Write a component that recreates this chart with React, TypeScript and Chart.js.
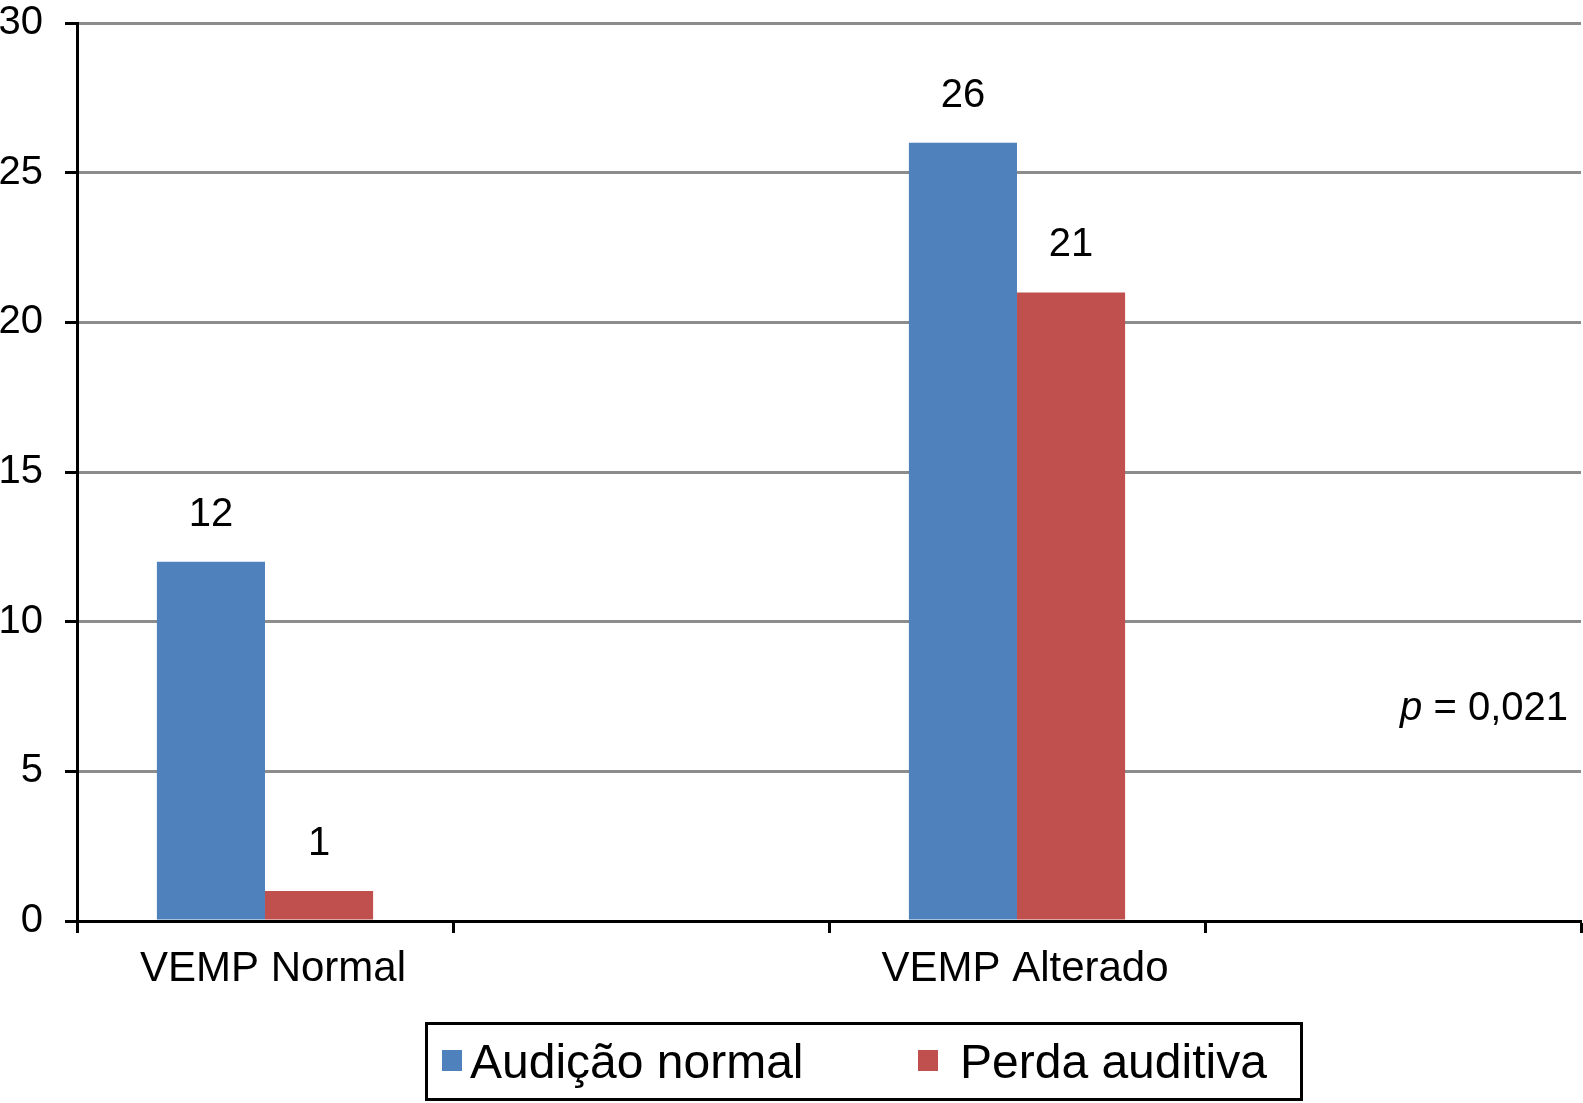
import React, { useEffect, useRef } from "react";
import { Chart, registerables } from "chart.js";

Chart.register(...registerables);

const categories = ["VEMP Normal", "", "VEMP Alterado", ""];
const audicaoNormal = [12, null, 26, null];
const perdaAuditiva = [1, null, 21, null];
const seriesNames = ["Audição normal", "Perda auditiva"];
const seriesColors = ["#4F81BD", "#C0504D"];
const yMax = 30;
const yStep = 5;
const pValueLabel = "0,021";

const FONT = '"Liberation Sans", Arial, Helvetica, sans-serif';

const dataLabelPlugin = {
  id: "dataLabels",
  afterDatasetsDraw(chart: any) {
    const ctx = chart.ctx;
    ctx.save();
    ctx.font = `40px ${FONT}`;
    ctx.fillStyle = "#000";
    ctx.textAlign = "center";
    ctx.textBaseline = "alphabetic";
    chart.data.datasets.forEach((ds: any, di: number) => {
      const meta = chart.getDatasetMeta(di);
      meta.data.forEach((el: any, i: number) => {
        const v = ds.data[i];
        if (v === null || v === undefined) return;
        ctx.fillText(String(v), el.x, el.y - 36);
      });
    });
    ctx.restore();
  },
};

const annotationPlugin = {
  id: "pValue",
  afterDraw(chart: any) {
    const ctx = chart.ctx;
    const area = chart.chartArea;
    ctx.save();
    ctx.fillStyle = "#000";
    ctx.textBaseline = "alphabetic";
    const rest = " = " + pValueLabel;
    ctx.font = `40px ${FONT}`;
    const restW = ctx.measureText(rest).width;
    const right = area.right - 13;
    const baseline = 720;
    ctx.textAlign = "left";
    ctx.fillText(rest, right - restW, baseline);
    ctx.font = `italic 40px ${FONT}`;
    const pW = ctx.measureText("p").width;
    ctx.fillText("p", right - restW - pW, baseline);
    ctx.restore();
  },
};

const legendPlugin = {
  id: "boxLegend",
  afterDraw(chart: any) {
    const ctx = chart.ctx;
    ctx.save();
    const bx = 426.5, by = 1023.5, bw = 875, bh = 76;
    ctx.lineWidth = 3;
    ctx.strokeStyle = "#000";
    ctx.strokeRect(bx, by, bw, bh);
    ctx.font = `48px ${FONT}`;
    ctx.textBaseline = "alphabetic";
    ctx.textAlign = "left";
    const items = [
      { sq: 442, tx: 470 },
      { sq: 918, tx: 960 },
    ];
    items.forEach((it, i) => {
      ctx.fillStyle = seriesColors[i];
      ctx.fillRect(it.sq, 1050, 20, 21);
      ctx.fillStyle = "#000";
      ctx.fillText(seriesNames[i], it.tx, 1078);
    });
    ctx.restore();
  },
};

export default function App() {
  const canvasRef = useRef<HTMLCanvasElement | null>(null);

  useEffect(() => {
    document.body.style.margin = "0";
    const canvas = canvasRef.current;
    if (!canvas) return;
    const chart = new Chart(canvas, {
      type: "bar",
      data: {
        labels: categories,
        datasets: [
          {
            label: seriesNames[0],
            data: audicaoNormal,
            backgroundColor: seriesColors[0],
            borderWidth: 0,
          },
          {
            label: seriesNames[1],
            data: perdaAuditiva,
            backgroundColor: seriesColors[1],
            borderWidth: 0,
          },
        ],
      },
      options: {
        animation: false,
        responsive: true,
        maintainAspectRatio: false,
        devicePixelRatio: 1,
        layout: { padding: { top: 23, right: 2, left: 0, bottom: 0 } },
        datasets: {
          bar: { categoryPercentage: 0.575, barPercentage: 1 },
        },
        plugins: {
          legend: { display: false },
          tooltip: { enabled: false },
          title: { display: false },
        },
        scales: {
          x: {
            offset: true,
            grid: {
              drawOnChartArea: false,
              offset: true,
              tickLength: 12,
              tickColor: "#000",
              tickWidth: 3,
            },
            border: { color: "#000", width: 3 },
            ticks: {
              color: "#000",
              font: { family: FONT, size: 42 },
              padding: 11,
              labelOffset: 8,
              maxRotation: 0,
              autoSkip: false,
            },
            afterFit(scale: any) {
              scale.height = 182;
            },
          },
          y: {
            min: 0,
            max: yMax,
            ticks: {
              stepSize: yStep,
              color: "#000",
              font: { family: FONT, size: 40 },
              padding: 22,
            },
            grid: {
              color: (c: any) => (c.tick && c.tick.value === 0 ? "#000" : "#8c8c8c"),
              lineWidth: 3,
              tickLength: 12,
              tickColor: "#000",
              tickWidth: 3,
            },
            border: { color: "#000", width: 3 },
            afterFit(scale: any) {
              scale.width = 77;
              scale.paddingTop = 0;
              scale.paddingBottom = 0;
            },
          },
        },
      },
      plugins: [dataLabelPlugin, annotationPlugin, legendPlugin],
    });
    return () => {
      chart.destroy();
    };
  }, []);

  return (
    <div
      style={{
        position: "absolute",
        left: 0,
        top: 0,
        width: "1583px",
        height: "1103px",
        background: "#fff",
      }}
    >
      <canvas ref={canvasRef} />
    </div>
  );
}
